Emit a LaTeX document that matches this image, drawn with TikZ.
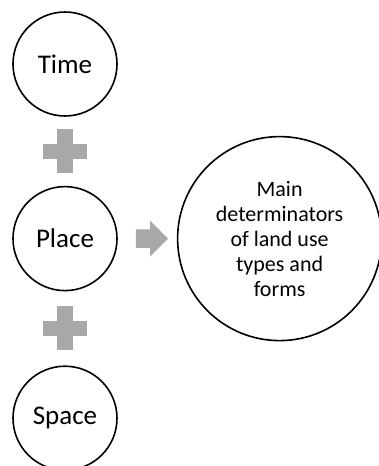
\documentclass[tikz,border=0pt]{standalone}
\usepackage{fontspec}
\setmainfont{Carlito}
\usetikzlibrary{positioning,calc,shapes.arrows}

\definecolor{plusgray}{RGB}{168,168,168}

\tikzset{
  ring/.style={circle, draw, line width=1.6pt, minimum size=104pt, inner sep=0pt,
    font=\fontsize{27}{31}\selectfont},
  bigring/.style={ring, minimum size=204pt, align=center,
    font=\fontsize{22}{25}\selectfont},
}

\begin{document}
\begin{tikzpicture}
  \useasboundingbox (0,0) rectangle (378pt,-466pt);
  \node[ring] (time) at (65pt,-64pt) {Time};
  \node[ring, below=69pt of time] (place) {Place};
  \node[ring, below=74pt of place] (space) {Space};
  \node[bigring, right=59pt of place] (main) {Main\\determinators\\of land use\\types and\\forms};
  % plus signs halfway between the rings
  \foreach \a/\b in {time/place, place/space} {
    \coordinate (p) at ($(\a)!0.5!(\b)$);
    \fill[plusgray] ([xshift=-22pt,yshift=-7.5pt]p) rectangle ([xshift=22pt,yshift=7.5pt]p);
    \fill[plusgray] ([xshift=-8pt,yshift=-22pt]p) rectangle ([xshift=8pt,yshift=22pt]p);
  }
  \node[single arrow, fill=plusgray, inner xsep=0pt, inner ysep=9pt, minimum height=32pt,
    single arrow head extend=8.5pt] (arrow) at ($(place.east)!0.5!(main.west)$) {};
\end{tikzpicture}
\end{document}
